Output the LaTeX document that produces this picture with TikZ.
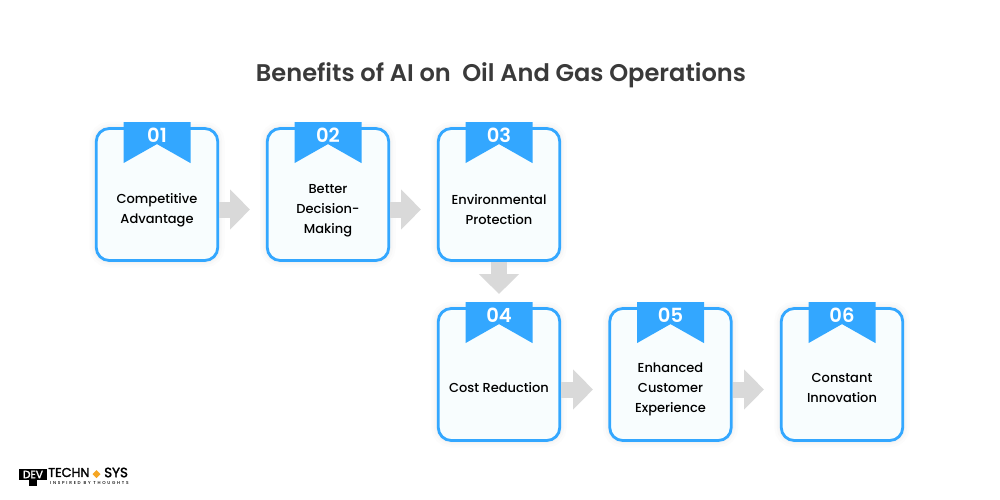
\documentclass[tikz,border=0pt]{standalone}
\usepackage{fontspec}
\setmainfont{Poppins}
\newfontfamily\medfont{Poppins Medium}
\newfontfamily\semifont{Poppins SemiBold}
\newfontfamily\logofont{Poppins}[FakeBold=2]
\newfontfamily\tagfont{Poppins Medium}[LetterSpace=40]
\usetikzlibrary{arrows.meta}
\definecolor{cardblue}{HTML}{33A7FF}
\definecolor{cardfill}{HTML}{F8FDFE}
\definecolor{arrowgray}{HTML}{D9D9D9}
\definecolor{titlegray}{HTML}{3A3A3A}
\definecolor{logoorange}{HTML}{F5A623}
\tikzset{
  card/.style={draw=cardblue,fill=cardfill,line width=2.8pt,rounded corners=13pt,
    minimum width=121.5pt,minimum height=132pt,inner sep=0pt,
    preaction={draw=black,draw opacity=.012,line width=14pt},
    preaction={draw=black,draw opacity=.015,line width=9pt},
    preaction={draw=black,draw opacity=.02,line width=5pt}},
  banner/.style={fill=cardblue},
  numlabel/.style={text=white,font=\semifont\fontsize{19.5}{19.5}\selectfont,inner sep=0pt},
  cardlabel/.style={text=black,align=center,inner sep=0pt,font=\medfont\fontsize{13}{20}\selectfont},
  blockarrow/.style={draw=arrowgray,line width=16pt,-{Triangle[width=39pt,length=20pt]}}
}
\begin{document}
\begin{tikzpicture}[x=1pt,y=-1pt]
      \useasboundingbox (0,0) rectangle (1000,500);

      \node[text=titlegray,font=\semifont\fontsize{24.1}{24}\selectfont,inner sep=0pt] (title) at (501,75) {Benefits of AI on\ \ Oil And Gas Operations};

      \begin{scope}[every node/.style={card}]
        \node (card1) at (157,194.5) {};
        \node (card2) at (328,194.5) {};
        \node (card3) at (499,194.5) {};
        \node (card4) at (499,374.5) {};
        \node (card5) at (670.5,374.5) {};
        \node (card6) at (842,374.5) {};
      \end{scope}

      % free ends of the block arrows
      \coordinate (end1) at (250,209.5);
      \coordinate (end2) at (421,209.5);
      \coordinate (end3) at (499,294);
      \coordinate (end4) at (593,389.5);
      \coordinate (end5) at (764,389.5);

      \path[blockarrow] (card1.east |- end1) -- (end1);
      \path[blockarrow] (card2.east |- end2) -- (end2);
      \path[blockarrow] (card3.south) -- (end3);
      \path[blockarrow] (card4.east |- end4) -- (end4);
      \path[blockarrow] (card5.east |- end5) -- (end5);

      \fill[banner] (card1.north) ++(-33.5,-5) -- ++(67,0) -- ++(0,41) -- ++(-33.5,-19) -- ++(-33.5,19) -- cycle;
      \fill[banner] (card2.north) ++(-33.5,-5) -- ++(67,0) -- ++(0,41) -- ++(-33.5,-19) -- ++(-33.5,19) -- cycle;
      \fill[banner] (card3.north) ++(-33.5,-5) -- ++(67,0) -- ++(0,41) -- ++(-33.5,-19) -- ++(-33.5,19) -- cycle;
      \fill[banner] (card4.north) ++(-33.5,-5) -- ++(67,0) -- ++(0,41) -- ++(-33.5,-19) -- ++(-33.5,19) -- cycle;
      \fill[banner] (card5.north) ++(-33.5,-5) -- ++(67,0) -- ++(0,41) -- ++(-33.5,-19) -- ++(-33.5,19) -- cycle;
      \fill[banner] (card6.north) ++(-33.5,-5) -- ++(67,0) -- ++(0,41) -- ++(-33.5,-19) -- ++(-33.5,19) -- cycle;

      \begin{scope}[every node/.style={numlabel}]
        \node (num1) at (157,135) {01};
        \node (num2) at (328,135) {02};
        \node (num3) at (499,135) {03};
        \node (num4) at (499,315) {04};
        \node (num5) at (670.5,315) {05};
        \node (num6) at (842,315) {06};
      \end{scope}

      \begin{scope}[every node/.style={cardlabel}]
        \node (text1) at (157,210) {Competitive\\Advantage};
        \node (text2) at (328,211) {Better\\Decision-\\Making};
        \node (text3) at (499,210) {Environmental\\Protection};
        \node (text4) at (499,388) {Cost Reduction};
        \node (text5) at (670.5,389) {Enhanced\\Customer\\Experience};
        \node (text6) at (842,388) {Constant\\Innovation};
      \end{scope}

      % logo
      \node[fill=black,text=white,inner sep=0pt,minimum width=28pt,minimum height=11pt,font=\logofont\fontsize{10.5}{10.5}\selectfont] (logodev) at (33,474.5) {DEV};
      \fill[black] (29,480) rectangle (37,485.5);
      \node[anchor=west,inner sep=0pt,font=\logofont\fontsize{12.8}{12.8}\selectfont] (logotech) at (48,472.5) {TECHN};
      \fill[logoorange] (96.5,470) -- (100.5,474) -- (96.5,478) -- (92.5,474) -- cycle;
      \node[anchor=west,inner sep=0pt,font=\logofont\fontsize{13.5}{13.5}\selectfont] (logosys) at (104,472.5) {SYS};
      \node[anchor=west,inner sep=0pt,font=\tagfont\fontsize{4.3}{4.3}\selectfont] (logotag) at (50,483) {INSPIRED BY THOUGHTS};

\end{tikzpicture}
\end{document}
